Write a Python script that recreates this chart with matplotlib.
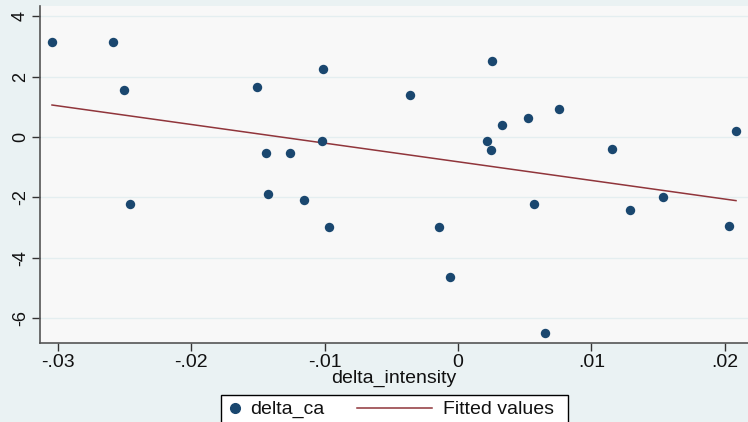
import numpy as np
import matplotlib
matplotlib.use("Agg")
import matplotlib.pyplot as plt
from matplotlib.lines import Line2D
from matplotlib.patches import Rectangle

delta_intensity = [-0.03045, -0.02588, -0.02505, -0.0246, -0.01508, -0.0144, -0.01425,
                   -0.0126, -0.01155, -0.0101, -0.0102, -0.00968, -0.0036, -0.00143,
                   -0.0006, 0.00218, 0.00255, 0.00248, 0.0033, 0.00525, 0.0057,
                   0.00758, 0.00653, 0.01155, 0.0129, 0.01538, 0.02033, 0.02085]
delta_ca = [3.15, 3.15, 1.56, -2.22, 1.66, -0.53, -1.89,
            -0.53, -2.09, 2.25, -0.13, -2.98, 1.39, -2.98,
            -4.64, -0.13, 2.52, -0.43, 0.40, 0.63, -2.22,
            0.93, -6.49, -0.40, -2.42, -1.99, -2.95, 0.20]

xticks = [-0.03, -0.02, -0.01, 0.0, 0.01, 0.02]
xticklabels = ["-.03", "-.02", "-.01", "0", ".01", ".02"]
yticks = [-6, -4, -2, 0, 2, 4]
yticklabels = ["-6", "-4", "-2", "0", "2", "4"]
legend_labels = ["delta_ca", "Fitted values"]

plt.rcParams['font.family'] = ['Liberation Sans', 'DejaVu Sans']

outer_bg = "#EAF2F3"
plot_bg = "#F8F8F8"
navy = "#1A476F"
maroon = "#90353B"
W, H = 748, 422
fs = 14

fig = plt.figure(figsize=(W/100, H/100), dpi=100, facecolor=outer_bg)
ax = fig.add_axes([40/W, (H-343)/H, 1 - 40/W, (343-6)/H])
ax.set_facecolor(plot_bg)

x = np.array(delta_intensity)
y = np.array(delta_ca)
b, a = np.polyfit(x, y, 1)
order = np.argsort(x)
xs = x[order]
ax.plot(xs, a + b*xs, color=maroon, lw=1.1, zorder=2)
ax.scatter(x, y, s=46, color=navy, zorder=3, linewidths=0)

ax.set_xlim(-0.03135, 0.02175)
ax.set_ylim(-6.82, 4.34)
ax.set_xticks(xticks)
ax.set_xticklabels(xticklabels)
ax.set_yticks(yticks)
ax.set_yticklabels(yticklabels, rotation=90, va='center')
ax.grid(axis='y', color="#E4EEF0", lw=1)
ax.set_axisbelow(True)
for s in ['top', 'right']:
    ax.spines[s].set_visible(False)
for s in ['left', 'bottom']:
    ax.spines[s].set_color("#555555")
    ax.spines[s].set_linewidth(1.2)
ax.tick_params(axis='both', colors="#333333", length=6, width=1, labelcolor="#111111")
ax.tick_params(axis='x', pad=2, labelsize=fs)
ax.tick_params(axis='y', pad=2, labelsize=13)
ax.set_xlabel("delta_intensity", fontsize=fs, color="#111111", labelpad=-1)

# legend drawn in figure pixel coordinates
def fx(px):
    return px / W
def fy(py):
    return (H - py) / H

fig.patches.append(Rectangle((fx(221), fy(430)), fx(568) - fx(221), fy(395) - fy(430),
                             transform=fig.transFigure, facecolor="white",
                             edgecolor="black", lw=1.0, zorder=5))
fig.lines.append(Line2D([fx(235)], [fy(408)], marker='o', color=navy, ls='none',
                        markersize=7, transform=fig.transFigure, zorder=6))
fig.text(fx(250), fy(409), legend_labels[0], fontsize=fs, color="#111111",
         va='center', ha='left', zorder=6)
fig.lines.append(Line2D([fx(357), fx(432)], [fy(408), fy(408)], color=maroon, lw=1.1,
                        transform=fig.transFigure, zorder=6))
fig.text(fx(443), fy(409), legend_labels[1], fontsize=fs, color="#111111",
         va='center', ha='left', zorder=6)

fig.savefig("out.png", dpi=100, facecolor=outer_bg)
